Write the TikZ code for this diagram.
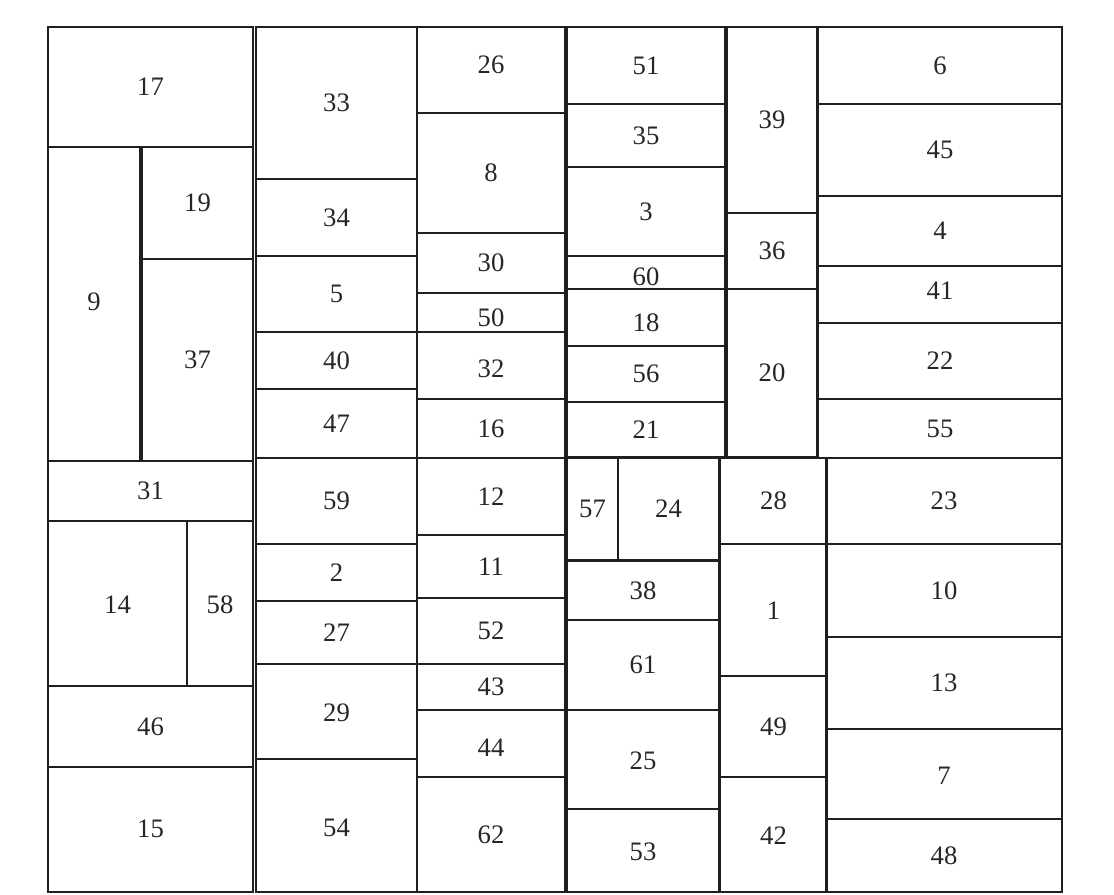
\documentclass[tikz,border=0pt]{standalone}
\usepackage{fontspec}
\setmainfont{Liberation Serif}
\begin{document}
\begin{tikzpicture}[x=0.75pt,y=-0.75pt,
  box/.style={draw=black!88,line width=1.3pt},
  lbl/.style={inner sep=0pt,font=\fontsize{20}{24}\selectfont,text=black!85}]
\useasboundingbox (0,0) rectangle (1114,894);
\newcommand\R[7][0]{\draw[box] (#3,#4) rectangle (#5,#6);
  \node[lbl] (n#2) at ({(#3+#5)/2},{(#4+#6)/2+#1}) {#7};}
% left column
\R{17}{48}{27}{253}{147}{17}
\R[-2]{9}{48}{147}{140}{461}{9}
\R{19}{142}{147}{253}{259}{19}
\R{37}{142}{259}{253}{461}{37}
\R{31}{48}{461}{253}{521}{31}
\R[1]{14}{48}{521}{187}{686}{14}
\R[1]{58}{187}{521}{253}{686}{58}
\R{46}{48}{686}{253}{767}{46}
\R[-1]{15}{48}{767}{253}{892}{15}
% column 2
\R{33}{256}{27}{417}{179}{33}
\R{34}{256}{179}{417}{256}{34}
\R{5}{256}{256}{417}{332}{5}
\R{40}{256}{332}{417}{389}{40}
\R{47}{256}{389}{417}{458}{47}
\R{59}{256}{458}{417}{544}{59}
\R{2}{256}{544}{417}{601}{2}
\R{27}{256}{601}{417}{664}{27}
\R[1]{29}{256}{664}{417}{759}{29}
\R[2]{54}{256}{759}{417}{892}{54}
% column 3
\R[-5]{26}{417}{27}{565}{113}{26}
\R{8}{417}{113}{565}{233}{8}
\R{30}{417}{233}{565}{293}{30}
\R[5]{50}{417}{293}{565}{332}{50}
\R[3]{32}{417}{332}{565}{399}{32}
\R{16}{417}{399}{565}{458}{16}
\R{12}{417}{458}{565}{535}{12}
\R{11}{417}{535}{565}{598}{11}
\R{52}{417}{598}{565}{664}{52}
\R{43}{417}{664}{565}{710}{43}
\R[4]{44}{417}{710}{565}{777}{44}
\R{62}{417}{777}{565}{892}{62}
% column 4 upper
\R{51}{567}{27}{725}{104}{51}
\R{35}{567}{104}{725}{167}{35}
\R{3}{567}{167}{725}{256}{3}
\R[4]{60}{567}{256}{725}{289}{60}
\R[5]{18}{567}{289}{725}{346}{18}
\R{56}{567}{346}{725}{402}{56}
\R{21}{567}{402}{725}{457}{21}
% column 5 upper
\R{39}{727}{27}{817}{213}{39}
\R{36}{727}{213}{817}{289}{36}
\R{20}{727}{289}{817}{457}{20}
% column 6 upper
\R{6}{818}{27}{1062}{104}{6}
\R{45}{818}{104}{1062}{196}{45}
\R{4}{818}{196}{1062}{266}{4}
\R[-4]{41}{818}{266}{1062}{323}{41}
\R{22}{818}{323}{1062}{399}{22}
\R{55}{818}{399}{1062}{458}{55}
% column 4 lower
\R{57}{567}{458}{618}{560}{57}
\R{24}{618}{458}{719}{560}{24}
\R{38}{567}{561}{719}{620}{38}
\R{61}{567}{620}{719}{710}{61}
\R[1]{25}{567}{710}{719}{809}{25}
\R[1]{53}{567}{809}{719}{892}{53}
% column 5 lower
\R{28}{720}{458}{827}{544}{28}
\R[1]{1}{720}{544}{827}{676}{1}
\R{49}{720}{676}{827}{777}{49}
\R[1]{42}{720}{777}{827}{892}{42}
% column 6 lower
\R{23}{826}{458}{1062}{544}{23}
\R{10}{826}{544}{1062}{637}{10}
\R{13}{826}{637}{1062}{729}{13}
\R[2]{7}{826}{729}{1062}{819}{7}
\R{48}{826}{819}{1062}{892}{48}
\end{tikzpicture}
\end{document}
